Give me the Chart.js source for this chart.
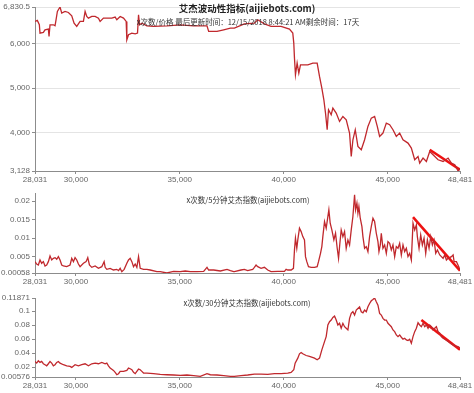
<!DOCTYPE html>
<html><head><meta charset="utf-8">
<script src="https://cdn.jsdelivr.net/npm/chart.js@4"></script>
<style>
html,body{margin:0;padding:0;background:#fff;}
#wrap{position:relative;width:474px;height:393px;overflow:hidden;}
canvas{position:absolute;left:0;}
.t{position:absolute;white-space:nowrap;transform:translate(-50%,-50%);color:#333;font-family:"Noto Sans CJK SC","Liberation Sans",sans-serif;}
</style></head><body>
<div id="wrap">
<canvas id="c1" width="474" height="190" style="top:0px"></canvas>
<canvas id="c2" width="474" height="106" style="top:186px"></canvas>
<canvas id="c3" width="474" height="102" style="top:291px"></canvas>
<div class="t" style="left:247px;top:8px;font-size:9.5px;font-weight:bold;color:#222">艾杰波动性指标(aijiebots.com)</div>
<div class="t" style="left:248px;top:21px;font-size:7.5px;">x次数/价格 最后更新时间：12/15/2018 8:44:21 AM剩余时间：17天</div>
<div class="t" style="left:248px;top:199px;font-size:7.5px;">x次数/5分钟艾杰指数(aijiebots.com)</div>
<div class="t" style="left:247px;top:302px;font-size:7.5px;">x次数/30分钟艾杰指数(aijiebots.com)</div>
</div>
<script>
// x-axis ticks shared
const xTicks = [28031, 30000, 35000, 40000, 45000, 48481];

// Chart 1: price
const priceX = [28031,28143,28240,28272,28433,28513,28674,28706,28754,28915,28995,29043,29108,29236,29317,29477,29638,29799,29911,30040,30200,30361,30442,30522,30602,30763,30924,31084,31165,31325,31486,31727,31888,31968,32129,32290,32418,32450,32531,32691,32852,32964,33013,33061,33173,33414,33735,34378,35021,35664,36307,36387,36789,37110,37432,
37623,38105,38587,38748,39069,39391,39873,40275,40435,40483,40516,40564,40644,40725,40805,40998,41159,41399,41608,41721,41833,41930,42010,42090,42155,42283,42364,42524,42685,42846,43007,43167,43248,43328,43441,43569,43730,43891,44051,44212,44372,44501,44613,44774,44935,45096,45256,45417,45578,45738,45979,46140,46301,46462,46542,46703,46863,47024,47185,47426,47667,47908,48068,48229,48390,48481];
const priceY = [6504,6527,6429,6241,6256,6316,6331,6165,6429,6429,6406,6542,6730,6830.5,6692,6730,6707,6632,6466,6391,6504,6504,6730,6617,6579,6617,6617,6579,6504,6579,6579,6579,6602,6542,6617,6579,6504,6090,6203,6241,6226,6241,6654,6429,6466,6406,6391,6406,6429,6406,6406,6278,6278,6316,6354,
6354,6451,6466,6542,6451,6391,6391,6331,6241,6015,5676,5300,5564,5338,5526,5526,5526,5564,5564,5263,5000,4736,4435,4059,4510,4398,4548,4435,4247,4360,4285,3984,3457,3833,4059,3683,3608,3833,4134,4322,4360,4134,3909,3984,4209,4172,4059,3909,3984,3833,3758,3645,3382,3457,3307,3420,3344,3570,3495,3382,3344,3420,3307,3269,3128,3194];
const priceTrendX = [47024, 48481];
const priceTrendY = [3608, 3156];
const priceTicks = [3128, 4000, 5000, 6000, 6830.5];

// Chart 2: 5-minute index
const idx5X = [28031,28111,28192,28272,28352,28433,28513,28593,28674,28754,28835,28915,28995,29076,29156,29236,29317,29397,29558,29718,29799,29879,29959,30040,30120,30200,30361,30490,30570,30650,30763,30924,31084,31245,31357,31406,31486,31647,31807,31968,32049,32129,32209,32322,32450,32531,32611,32691,32772,32852,32932,33013,33093,33254,33414,33575,33896,34057,34378,34700,35021,35262,35503,35825,36146,36307,36387,36628,36950,37271,37432,37593,
37623,37944,38105,38266,38507,38587,38668,38748,38909,39069,39230,39391,39712,40034,40114,40194,40355,40467,40516,40564,40628,40676,40757,40837,40917,40998,41046,41110,41191,41319,41480,41608,41673,41769,41833,41881,41962,42042,42123,42171,42235,42315,42412,42492,42573,42637,42701,42765,42846,42926,43006,43087,43167,43248,43328,43408,43456,43521,43569,43617,43681,43762,43810,43890,43971,44051,44131,44212,44292,44372,44453,44533,44581,44646,44694,44774,44855,44935,45015,45096,45176,45256,45337,45417,45497,45578,45658,45738,45819,45899,45979,46060,46140,46220,46301,46381,46429,46510,46590,46670,46751,46831,46911,46992,47072,47153,47233,47313,47394,47506,47586,47667,47747,47827,47908,48068,48149,48197,48310,48421,48481];
const idx5Y = [0.00365,0.00301,0.00274,0.0041,0.0032,0.00365,0.00247,0.00274,0.00365,0.00518,0.0041,0.00455,0.00473,0.00428,0.005,0.0041,0.00274,0.00247,0.00229,0.00274,0.00455,0.00365,0.00473,0.0041,0.00301,0.00229,0.0032,0.00365,0.00473,0.00274,0.00211,0.00247,0.00184,0.00229,0.00365,0.00211,0.00157,0.00184,0.00139,0.00157,0.00121,0.00184,0.00094,0.00157,0.0032,0.0041,0.00455,0.00365,0.00229,0.00301,0.00211,0.005,0.00184,0.00157,0.00157,0.00139,0.00094,0.00094,0.00058,0.00103,0.00094,0.00112,0.00094,0.00094,0.00103,0.00211,0.00139,0.00139,0.00112,0.00157,0.00121,0.00094,
0.00094,0.00139,0.00157,0.00121,0.00157,0.00211,0.00274,0.00229,0.00184,0.00211,0.00139,0.00094,0.00103,0.00103,0.00157,0.00139,0.00139,0.00184,0.0068,0.01,0.00726,0.00952,0.01268,0.01177,0.01042,0.00952,0.005,0.00365,0.00229,0.00211,0.00211,0.00229,0.00365,0.0059,0.00771,0.01042,0.01448,0.01268,0.01584,0.01764,0.01403,0.01222,0.00952,0.01132,0.00726,0.00455,0.00861,0.01222,0.01042,0.01177,0.00726,0.00952,0.00816,0.01222,0.01584,0.02171,0.01764,0.01945,0.01674,0.01855,0.01538,0.01313,0.01042,0.00726,0.00771,0.00635,0.01042,0.01313,0.01538,0.01448,0.01132,0.00906,0.00635,0.00816,0.01132,0.00726,0.00816,0.0059,0.00906,0.00861,0.0068,0.00816,0.005,0.00771,0.00726,0.00861,0.00545,0.00816,0.00635,0.00726,0.005,0.0059,0.0041,0.01403,0.01222,0.01358,0.01042,0.00726,0.01087,0.00816,0.00997,0.0059,0.00952,0.00726,0.01042,0.00816,0.00952,0.0059,0.0068,0.00545,0.005,0.00455,0.00545,0.0041,0.00455,0.005,0.00545,0.00365,0.00365,0.00229,0.00139];
const idx5TrendX = [46220, 48481];
const idx5TrendY = [0.01566, 0.0012];
const idx5Ticks = [0.00058, 0.005, 0.01, 0.015, 0.02];

// Chart 3: 30-minute index
const idx30X = [28031,28111,28192,28272,28352,28433,28513,28593,28674,28754,28835,28915,28995,29076,29156,29236,29397,29558,29718,29799,29959,30120,30281,30442,30602,30763,30924,31084,31245,31406,31486,31566,31647,31807,31888,31968,32049,32129,32290,32450,32531,32611,32691,32772,32852,32932,33013,33093,33173,33254,33414,33735,34057,34378,34700,35021,35342,35664,35985,36307,36468,36789,37110,37432,
37623,37944,38266,38587,38909,39230,39551,39873,40194,40355,40483,40548,40676,40757,40837,40917,41078,41239,41480,41608,41721,41833,41962,42042,42123,42203,42283,42364,42444,42524,42605,42685,42765,42846,42926,43006,43087,43167,43248,43328,43408,43489,43569,43649,43730,43810,43890,43971,44051,44131,44212,44292,44372,44453,44533,44613,44694,44774,44855,44935,45015,45096,45176,45256,45337,45417,45497,45578,45658,45738,45819,45899,45979,46060,46140,46220,46301,46381,46462,46542,46622,46703,46783,46863,46944,47024,47104,47185,47265,47345,47426,47506,47586,47667,47747,47908,48068,48229,48390,48481];
const idx30Y = [0.0280,0.0256,0.0289,0.0266,0.0280,0.0247,0.0233,0.0218,0.0247,0.0280,0.0256,0.0218,0.0233,0.0266,0.0280,0.0256,0.0233,0.0218,0.0209,0.0195,0.0233,0.0218,0.0233,0.0247,0.0218,0.0247,0.0256,0.0247,0.0266,0.0247,0.0256,0.0218,0.0185,0.0152,0.0124,0.0090,0.0105,0.0138,0.0138,0.0152,0.0185,0.0176,0.0161,0.0124,0.0105,0.0138,0.0171,0.0161,0.0138,0.0114,0.0114,0.0105,0.0095,0.0090,0.0086,0.0081,0.0086,0.0076,0.0067,0.0105,0.0090,0.0086,0.0076,0.0067,
0.0067,0.0076,0.0086,0.0100,0.0100,0.0095,0.0105,0.0105,0.0114,0.0124,0.0161,0.0256,0.0327,0.0389,0.0408,0.0389,0.0365,0.0351,0.0327,0.0304,0.0327,0.0446,0.0564,0.0635,0.0801,0.0848,0.0872,0.0910,0.0929,0.0872,0.0801,0.0825,0.0754,0.0825,0.0777,0.0754,0.0730,0.0896,0.0967,0.0991,0.0943,0.1014,0.1038,0.1061,0.0991,0.0976,0.1014,0.0991,0.1061,0.1109,0.1147,0.1166,0.11871,0.1133,0.1085,0.0967,0.0943,0.0896,0.0872,0.0872,0.0825,0.0801,0.0777,0.0730,0.0706,0.0659,0.0635,0.0659,0.0626,0.0597,0.0611,0.0588,0.0578,0.0597,0.0540,0.0635,0.0706,0.0754,0.0834,0.0801,0.0777,0.0825,0.0777,0.0801,0.0754,0.0801,0.0777,0.0730,0.0754,0.0777,0.0706,0.0683,0.0635,0.0611,0.0597,0.0564,0.0531,0.0503,0.0493,0.0470];
const idx30TrendX = [46622, 48481];
const idx30TrendY = [0.0872, 0.0446];
const idx30Ticks = [0.00576, 0.02, 0.04, 0.06, 0.08, 0.1, 0.11871];

const LINE = '#c0282d', TREND = '#ee1111', AXIS = '#8c8c8c', LABEL = '#666', FONT = 'Liberation Sans';

function pts(xs, ys){ return xs.map((x,i)=>({x:x, y:ys[i]})); }
function fmtComma(v){ return Number(v).toLocaleString('en-US', {maximumFractionDigits: 2}); }
function fmtPlain(v){ return String(v); }

function makeChart(id, xs, ys, tx, ty, yTicks, yMin, yMax, fmtY, showGrid, xH){
  new Chart(document.getElementById(id), {
    type: 'line',
    data: { datasets: [
      { data: pts(xs, ys), borderColor: LINE, borderWidth: 1.3, pointRadius: 0, tension: 0, fill: false },
      { data: pts(tx, ty), borderColor: TREND, borderWidth: 2.6, pointRadius: 0, tension: 0, fill: false }
    ]},
    options: {
      responsive: false, animation: false,
      layout: { padding: { left: 0, right: 14, top: 7, bottom: 0 } },
      plugins: { legend: { display: false }, tooltip: { enabled: false } },
      scales: {
        x: {
          type: 'linear', min: xTicks[0], max: xTicks[xTicks.length-1],
          afterBuildTicks: s => { s.ticks = xTicks.map(v => ({value: v})); },
          afterFit: s => { s.height = xH; },
          ticks: { callback: v => fmtComma(v), color: LABEL, font: { family: FONT, size: 8 }, padding: 1, maxRotation: 0, autoSkip: false },
          grid: { drawOnChartArea: false, tickColor: AXIS, tickLength: 3 },
          border: { color: AXIS }
        },
        y: {
          type: 'linear', min: yMin, max: yMax,
          afterBuildTicks: s => { s.ticks = yTicks.map(v => ({value: v})); },
          afterFit: s => { s.width = 35; },
          ticks: { callback: v => fmtY(v), color: LABEL, font: { family: FONT, size: 8 }, padding: 2, autoSkip: false },
          grid: { drawOnChartArea: showGrid, color: '#e4e4e4', tickColor: AXIS, tickLength: 3 },
          border: { color: AXIS }
        }
      }
    }
  });
}

makeChart('c1', priceX, priceY, priceTrendX, priceTrendY, priceTicks, 3128, 6830.5, fmtComma, true, 19);
makeChart('c2', idx5X, idx5Y, idx5TrendX, idx5TrendY, idx5Ticks, 0.00058, 0.0222, fmtPlain, false, 19);
makeChart('c3', idx30X, idx30Y, idx30TrendX, idx30TrendY, idx30Ticks, 0.00576, 0.11871, fmtPlain, false, 16);
</script>
</body></html>
